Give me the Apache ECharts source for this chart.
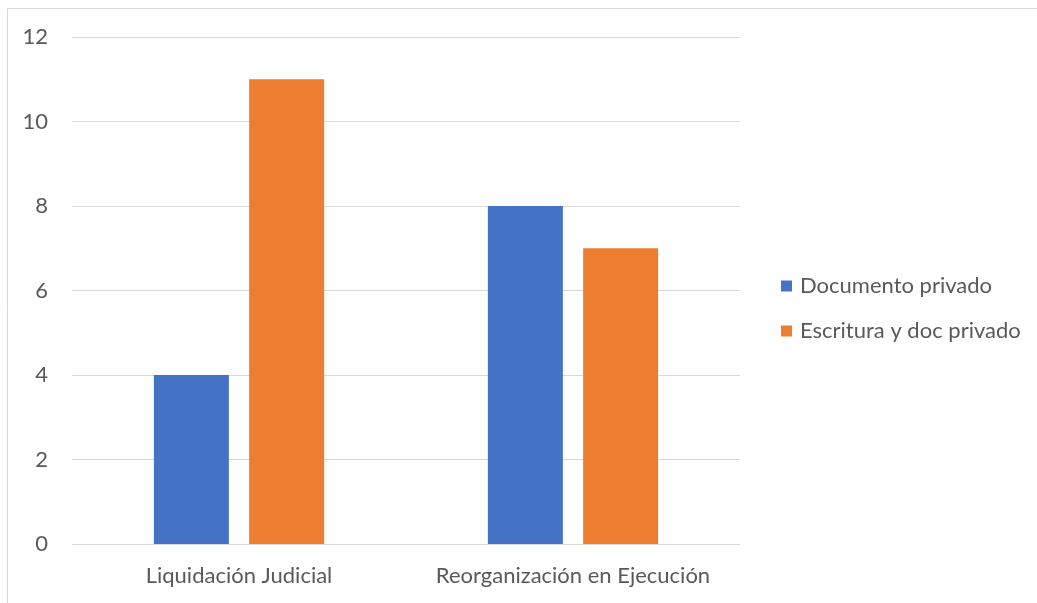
<!DOCTYPE html>
<html>
<head>
<meta charset="utf-8">
<script src="https://cdn.jsdelivr.net/npm/echarts@6/dist/echarts.min.js"></script>
<style>
  html, body { margin: 0; padding: 0; background: #fff; }
  #chart { width: 1037px; height: 603px; }
</style>
</head>
<body>
<div id="chart"></div>
<script>
const categories = ['Liquidación Judicial', 'Reorganización en Ejecución'];
const seriesNames = ['Documento privado', 'Escritura y doc privado'];
const documentoPrivado = [4, 8];
const escrituraDocPrivado = [11, 7];
const colors = ['#4472C4', '#ED7D31'];

const textColor = '#595959';
const fontFamily = 'Lato, "Open Sans", sans-serif';

const chart = echarts.init(document.getElementById('chart'));
chart.setOption({
  animation: false,
  backgroundColor: '#ffffff',
  color: colors,
  graphic: [{
    type: 'rect',
    shape: { x: 7.5, y: 8.5, width: 1200, height: 800 },
    style: { fill: 'none', stroke: '#d9d9d9', lineWidth: 1 },
    silent: true
  }],
  grid: { left: 72, right: 297, top: 37, bottom: 59, containLabel: false },
  legend: {
    orient: 'vertical',
    left: 776,
    top: 270,
    itemWidth: 11,
    itemHeight: 11,
    itemGap: 23,
    icon: 'rect',
    textStyle: { color: textColor, fontSize: 22, fontFamily: fontFamily, padding: [0, 0, 0, 3] },
    data: seriesNames
  },
  xAxis: {
    type: 'category',
    data: categories,
    axisLine: { show: true, lineStyle: { color: '#d9d9d9', width: 1 } },
    axisTick: { show: false },
    axisLabel: { color: textColor, fontSize: 22, fontFamily: fontFamily, margin: 21, interval: 0, hideOverlap: false }
  },
  yAxis: {
    type: 'value',
    min: 0,
    max: 12,
    interval: 2,
    axisLine: { show: false },
    axisTick: { show: false },
    splitLine: { lineStyle: { color: '#d9d9d9', width: 1 } },
    axisLabel: { color: textColor, fontSize: 22, fontFamily: fontFamily, margin: 24 }
  },
  series: [
    {
      name: seriesNames[0],
      type: 'bar',
      data: documentoPrivado,
      barWidth: 75,
      barGap: '27%'
    },
    {
      name: seriesNames[1],
      type: 'bar',
      data: escrituraDocPrivado,
      barWidth: 75,
      barGap: '27%'
    }
  ]
});
</script>
</body>
</html>
